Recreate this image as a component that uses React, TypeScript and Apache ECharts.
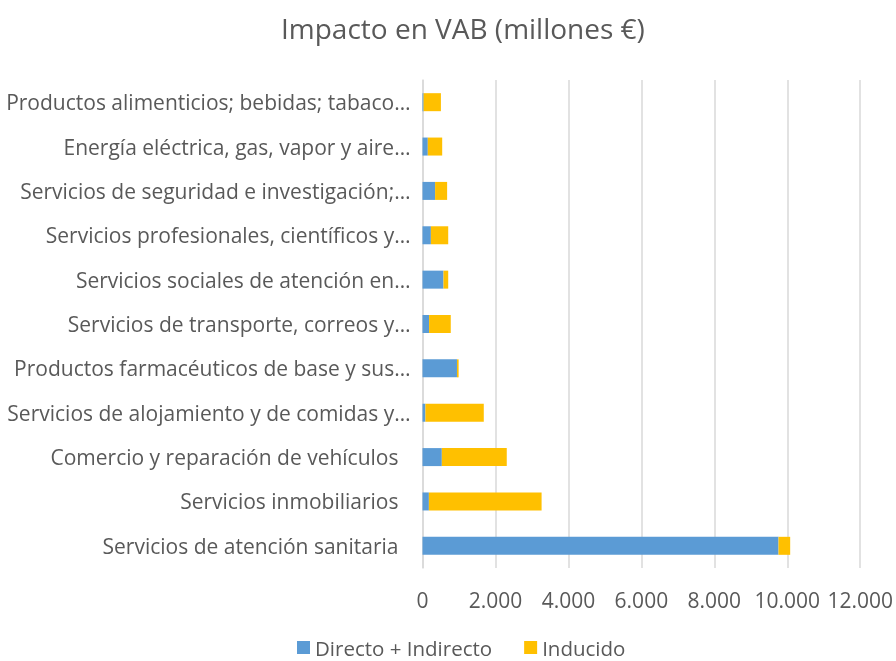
import React, { useEffect, useRef } from "react";
import * as echarts from "echarts";

const categories = [
  "Servicios de atención sanitaria",
  "Servicios inmobiliarios",
  "Comercio y reparación de vehículos",
  "Servicios de alojamiento y de comidas y…",
  "Productos farmacéuticos de base y sus…",
  "Servicios de transporte, correos y…",
  "Servicios sociales de atención en…",
  "Servicios profesionales, científicos y…",
  "Servicios de seguridad e investigación;…",
  "Energía eléctrica, gas, vapor y aire…",
  "Productos alimenticios; bebidas; tabaco…",
];
const truncated = [false, false, false, true, true, true, true, true, true, true, true];
const directo = [9760, 175, 530, 80, 945, 180, 575, 230, 345, 145, 30];
const inducido = [320, 3090, 1780, 1600, 45, 595, 130, 475, 330, 395, 475];
const xTicks = [0, 2000, 4000, 6000, 8000, 10000, 12000];

const FONT = "Open Sans";
const GREY = "#595959";

export default function App() {
  const ref = useRef<HTMLDivElement>(null);
  useEffect(() => {
    if (!ref.current) return;
    const chart = echarts.init(ref.current, undefined, { renderer: "svg" });
    chart.setOption({
      animation: false,
      textStyle: { fontFamily: FONT },
      title: {
        text: "Impacto en VAB (millones €)",
        left: 276,
        top: 9,
        textStyle: { fontFamily: FONT, fontSize: 28, fontWeight: "normal", color: GREY },
      },
      legend: {
        top: 637,
        left: 297,
        padding: 0,
        itemWidth: 13,
        itemHeight: 13,
        itemGap: 32,
        icon: "rect",
        textStyle: { fontFamily: FONT, fontSize: 20.5, lineHeight: 20, color: GREY },
        data: ["Directo + Indirecto", "Inducido"],
      },
      grid: { left: 422.5, right: 34, top: 80, bottom: 93, containLabel: false },
      xAxis: {
        type: "value",
        min: 0,
        max: xTicks[xTicks.length - 1],
        interval: xTicks[1] - xTicks[0],
        axisLine: { show: false },
        axisTick: { show: false },
        splitLine: { show: true, lineStyle: { color: "#D9D9D9", width: 1.5 } },
        axisLabel: {
          fontFamily: FONT,
          fontSize: 21,
          color: GREY,
          margin: 21,
          formatter: (v: number) => v.toLocaleString("de-DE"),
        },
      },
      yAxis: {
        type: "category",
        data: categories.map((c, i) => ({
          value: c,
          textStyle: { padding: truncated[i] ? [0, 0, 0, 0] : [0, 12, 0, 0] },
        })),
        axisLine: { show: true, lineStyle: { color: "#D9D9D9", width: 1.5 } },
        axisTick: { show: false },
        axisLabel: { fontFamily: FONT, fontSize: 21, color: GREY, margin: 12 },
      },
      series: [
        {
          name: "Directo + Indirecto",
          type: "bar",
          stack: "total",
          barWidth: 18,
          itemStyle: { color: "#5B9BD5" },
          data: directo,
        },
        {
          name: "Inducido",
          type: "bar",
          stack: "total",
          barWidth: 18,
          itemStyle: { color: "#FFC000" },
          data: inducido,
        },
      ],
    });
    return () => chart.dispose();
  }, []);
  return (
    <div
      ref={ref}
      style={{ position: "fixed", left: 0, top: 0, width: 896, height: 661 }}
    />
  );
}
